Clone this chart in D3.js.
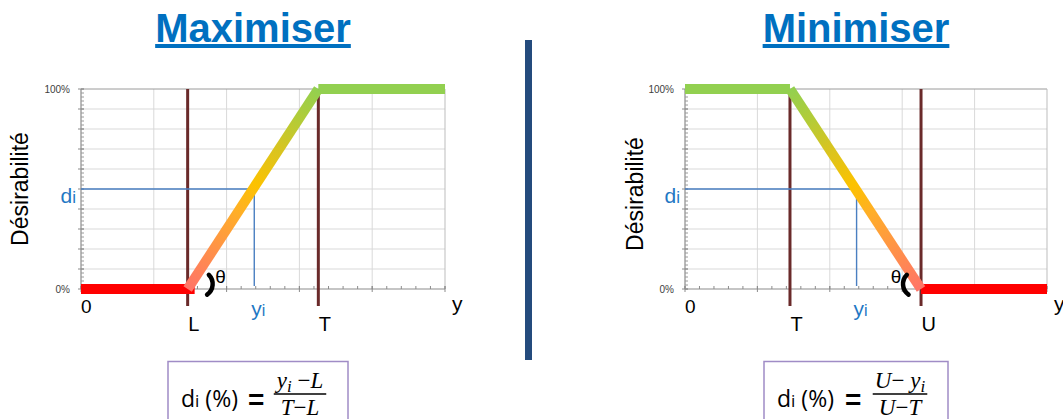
<!DOCTYPE html>
<html>
<head>
<meta charset="utf-8">
<script src="https://cdn.jsdelivr.net/npm/d3@7"></script>
<style>
  html, body { margin: 0; padding: 0; background: #ffffff; }
  svg { display: block; }
</style>
</head>
<body>
<script>
// ---- data -------------------------------------------------------------
const panelTitles = ["Maximiser", "Minimiser"];
const xDomain = [0, 10];
const xMajorTicks = [0, 2, 4, 6, 8, 10];
const yTickLabels = ["0%", "100%"];
const yTickValues = [0, 1];

// Maximiser: desirability rises from L to T
const maxMarkerNames = ["L", "T"];
const maxMarkerValues = [2.93, 6.52];
const maxCurveX = [0, 2.93, 6.52, 10];
const maxCurveY = [0, 0, 1, 1];
const maxYi = 4.76;
const maxDi = 0.5;

// Minimiser: desirability falls from T to U
const minMarkerNames = ["T", "U"];
const minMarkerValues = [2.90, 6.52];
const minCurveX = [0, 2.90, 6.52, 10];
const minCurveY = [1, 1, 0, 0];
const minYi = 4.74;
const minDi = 0.5;

// ---- layout -----------------------------------------------------------
const W = 1063, H = 419;
const plotTop = 89, plotBottom = 289;
const sans = "'Liberation Sans', Arial, Helvetica, sans-serif";
const serif = "'Liberation Serif', 'DejaVu Serif', serif";
const blue = "#1f78c4";

const panels = [
  {
    title: panelTitles[0], left: 81, right: 445, titleX: 253,
    ylabX: 20, ylabY: 189,
    names: maxMarkerNames, marks: maxMarkerValues,
    cx: maxCurveX, cy: maxCurveY, yi: maxYi, di: maxDi,
    redExtend: 7,
    box: { x: 168, w: 180, eqX: 80, fracX: 132 },
    num: ["y", "i", " \u2212", "L"], den: ["T", "\u2212", "L"], numKind: "yFirst"
  },
  {
    title: panelTitles[1], left: 685, right: 1047, titleX: 856,
    ylabX: 635, ylabY: 194,
    names: minMarkerNames, marks: minMarkerValues,
    cx: minCurveX, cy: minCurveY, yi: minYi, di: minDi,
    redExtend: 0,
    box: { x: 764, w: 184, eqX: 81, fracX: 136 },
    num: ["U", "\u2212 ", "y", "i"], den: ["U", "\u2212", "T"], numKind: "yLast"
  }
];

const svg = d3.select("body").append("svg")
  .attr("width", W).attr("height", H)
  .attr("viewBox", `0 0 ${W} ${H}`);

const defs = svg.append("defs");

// divider between the two panels
svg.append("rect")
  .attr("x", 525).attr("y", 40).attr("width", 7).attr("height", 320)
  .attr("fill", "#244b7d");

panels.forEach((p, pi) => {
  const x = d3.scaleLinear().domain(xDomain).range([p.left, p.right]);
  const y = d3.scaleLinear().domain([0, 1]).range([plotBottom, plotTop]);
  const g = svg.append("g");

  // title
  g.append("text")
    .attr("x", p.titleX).attr("y", 42)
    .attr("text-anchor", "middle")
    .attr("font-family", sans).attr("font-weight", "bold")
    .attr("font-size", 40).attr("fill", "#0070c0")
    .style("text-decoration", "underline")
    .text(p.title);

  // grid
  const grid = g.append("g");
  grid.selectAll("line.h")
    .data(d3.range(1, 10).map(i => i / 10))
    .join("line")
    .attr("x1", x(xDomain[0])).attr("x2", x(xDomain[1]))
    .attr("y1", d => y(d)).attr("y2", d => y(d))
    .attr("stroke", "#d9d9d9").attr("stroke-width", 1);
  grid.selectAll("line.v")
    .data(xMajorTicks.slice(1, -1))
    .join("line")
    .attr("x1", d => x(d)).attr("x2", d => x(d))
    .attr("y1", y(0)).attr("y2", y(1))
    .attr("stroke", "#d9d9d9").attr("stroke-width", 1);

  // plot frame: top and right border
  grid.append("line")
    .attr("x1", x(0)).attr("x2", x(10)).attr("y1", y(1)).attr("y2", y(1))
    .attr("stroke", "#9a9a9a").attr("stroke-width", 1);
  grid.append("line")
    .attr("x1", x(10)).attr("x2", x(10)).attr("y1", y(1)).attr("y2", y(0))
    .attr("stroke", "#bdbdbd").attr("stroke-width", 1);

  // x axis with minor ticks
  const xAxis = g.append("g").attr("transform", `translate(0,${y(0)})`);
  xAxis.append("line")
    .attr("x1", x(0)).attr("x2", x(10))
    .attr("stroke", "#8c8c8c").attr("stroke-width", 1.2);
  xAxis.selectAll("line.minor")
    .data(d3.range(0, 10.001, 0.4))
    .join("line")
    .attr("x1", d => x(d)).attr("x2", d => x(d))
    .attr("y1", -3).attr("y2", 0)
    .attr("stroke", "#8c8c8c");
  xAxis.selectAll("line.major")
    .data(xMajorTicks)
    .join("line")
    .attr("x1", d => x(d)).attr("x2", d => x(d))
    .attr("y1", -3).attr("y2", 3)
    .attr("stroke", "#8c8c8c");

  // y axis with minor ticks
  const yAxis = g.append("g").attr("transform", `translate(${x(0)},0)`);
  yAxis.append("line")
    .attr("y1", y(0)).attr("y2", y(1))
    .attr("stroke", "#8c8c8c").attr("stroke-width", 1.2);
  yAxis.selectAll("line.minor")
    .data(d3.range(0, 1.0001, 0.02))
    .join("line")
    .attr("y1", d => y(d)).attr("y2", d => y(d))
    .attr("x1", 0).attr("x2", 3)
    .attr("stroke", "#9a9a9a");
  yAxis.selectAll("line.major")
    .data(d3.range(0, 1.0001, 0.1))
    .join("line")
    .attr("y1", d => y(d)).attr("y2", d => y(d))
    .attr("x1", -3).attr("x2", 3)
    .attr("stroke", "#8c8c8c");
  yAxis.selectAll("text")
    .data(yTickValues)
    .join("text")
    .attr("x", -11).attr("y", d => y(d) + 3.5)
    .attr("text-anchor", "end")
    .attr("font-family", sans).attr("font-size", 10)
    .attr("fill", "#404040")
    .text((d, i) => yTickLabels[i]);

  // y axis title
  g.append("text")
    .attr("transform", `translate(${p.ylabX + 8},${p.ylabY}) rotate(-90)`)
    .attr("text-anchor", "middle")
    .attr("font-family", sans).attr("font-size", 23)
    .attr("fill", "#000")
    .text("Désirabilité");

  // vertical limit lines
  g.selectAll("line.mark")
    .data(p.marks)
    .join("line")
    .attr("x1", d => x(d)).attr("x2", d => x(d))
    .attr("y1", y(1)).attr("y2", y(0) + 17)
    .attr("stroke", "#6a2a2a").attr("stroke-width", 3);
  g.selectAll("text.mark")
    .data(p.marks)
    .join("text")
    .attr("x", d => x(d) + 0.5).attr("y", 331)
    .attr("font-family", sans).attr("font-size", 20)
    .attr("fill", "#000")
    .text((d, i) => p.names[i]);

  // "0" and "y" labels on the x axis
  g.append("text")
    .attr("x", x(0)).attr("y", 313)
    .attr("font-family", sans).attr("font-size", 19).attr("fill", "#000")
    .text("0");
  g.append("text")
    .attr("x", x(10) + 7).attr("y", 311)
    .attr("font-family", sans).attr("font-size", 21).attr("fill", "#000")
    .text("y");

  // di / yi guide lines
  g.append("path")
    .attr("d", `M${x(0)},${y(p.di)}H${x(p.yi)}V${y(0) - 3}`)
    .attr("fill", "none")
    .attr("stroke", "#4a7fc1").attr("stroke-width", 1.4);

  const diLabel = g.append("text")
    .attr("x", x(0) - 5).attr("y", y(p.di) + 14)
    .attr("text-anchor", "end")
    .attr("font-family", sans).attr("fill", blue);
  diLabel.append("tspan").attr("font-size", 21).text("d");
  diLabel.append("tspan").attr("font-size", 17).text("i");

  const yiLabel = g.append("text")
    .attr("x", x(p.yi) - 3).attr("y", 316)
    .attr("font-family", sans).attr("fill", blue);
  yiLabel.append("tspan").attr("font-size", 21).text("y");
  yiLabel.append("tspan").attr("font-size", 16).text("i");

  // desirability curve, split into flat and sloped segments
  const segs = d3.pairs(d3.range(p.cx.length));
  segs.forEach(([a, b]) => {
    const x1 = x(p.cx[a]), x2 = x(p.cx[b]);
    const y1 = y(p.cy[a]), y2 = y(p.cy[b]);
    if (p.cy[a] === p.cy[b]) {
      const red = p.cy[a] === 0;
      let ex2 = x2;
      if (red && p.redExtend) { ex2 = x2 + p.redExtend; }
      g.append("line")
        .attr("x1", x1).attr("x2", ex2)
        .attr("y1", y1).attr("y2", y2)
        .attr("stroke", red ? "#ff0000" : "#92d050")
        .attr("stroke-width", 10);
    }
  });
  segs.forEach(([a, b]) => {
    if (p.cy[a] === p.cy[b]) return;
    const lowIdx = p.cy[a] < p.cy[b] ? a : b;
    const highIdx = lowIdx === a ? b : a;
    const gid = "slope" + pi;
    const grad = defs.append("linearGradient")
      .attr("id", gid)
      .attr("gradientUnits", "userSpaceOnUse")
      .attr("x1", x(p.cx[lowIdx])).attr("y1", y(p.cy[lowIdx]))
      .attr("x2", x(p.cx[highIdx])).attr("y2", y(p.cy[highIdx]));
    [
      [0, "#ff7468"], [0.2, "#ff9248"], [0.38, "#ffae28"],
      [0.52, "#fcc200"], [0.7, "#d8c420"], [0.85, "#b2cc38"], [1, "#92d050"]
    ].forEach(([o, c]) => grad.append("stop").attr("offset", o).attr("stop-color", c));
    g.append("line")
      .attr("x1", x(p.cx[a])).attr("y1", y(p.cy[a]))
      .attr("x2", x(p.cx[b])).attr("y2", y(p.cy[b]))
      .attr("stroke", `url(#${gid})`)
      .attr("stroke-width", 10);

    // angle marker at the foot of the slope: a small bracket and θ
    const fx = x(p.cx[lowIdx]), fy = y(p.cy[lowIdx]);
    const toRight = p.cx[highIdx] > p.cx[lowIdx];
    const deg = Math.PI / 180;
    const r = 13;
    const acx = toRight ? fx + 12 : fx - 5;
    const acy = fy - 5;
    const a0 = toRight ? -45 * deg : 125 * deg;
    const a1 = toRight ? 55 * deg : 225 * deg;
    const arcPath = d3.path();
    arcPath.arc(acx, acy, r, a0, a1, false);
    g.append("path")
      .attr("d", arcPath.toString())
      .attr("fill", "none").attr("stroke", "#000")
      .attr("stroke-width", 4.5).attr("stroke-linecap", "round");
    g.append("text")
      .attr("x", toRight ? fx + 33 : fx - 25)
      .attr("y", fy - 6)
      .attr("text-anchor", "middle")
      .attr("font-family", sans).attr("font-size", 19).attr("fill", "#000")
      .text("θ");
  });

  // formula box
  const bx = p.box.x, by = 361.5;
  g.append("rect")
    .attr("x", bx).attr("y", by).attr("width", p.box.w).attr("height", 80)
    .attr("fill", "#fff").attr("stroke", "#a08cc6").attr("stroke-width", 1.5);

  const lhs = g.append("text")
    .attr("x", bx + 13).attr("y", 407)
    .attr("font-family", "'Open Sans', " + sans).attr("fill", "#000");
  lhs.append("tspan").attr("font-size", 23).text("d");
  lhs.append("tspan").attr("font-size", 17).text("i");
  lhs.append("tspan").attr("font-size", 23).text(" (%)");
  g.append("text")
    .attr("x", bx + p.box.eqX).attr("y", 409)
    .attr("font-family", sans).attr("font-weight", "bold")
    .attr("font-size", 28).attr("fill", "#000")
    .text("=");

  const fxc = bx + p.box.fracX;
  const num = g.append("text")
    .attr("x", fxc).attr("y", 388)
    .attr("text-anchor", "middle")
    .attr("font-family", serif).attr("font-size", 23).attr("fill", "#000");
  if (p.numKind === "yFirst") {
    num.append("tspan").attr("font-style", "italic").text(p.num[0]);
    num.append("tspan").attr("font-style", "italic").attr("font-size", 17).attr("dy", 4).text(p.num[1]);
    num.append("tspan").attr("dy", -4).text(p.num[2]);
    num.append("tspan").attr("font-style", "italic").text(p.num[3]);
  } else {
    num.append("tspan").attr("font-style", "italic").text(p.num[0]);
    num.append("tspan").text(p.num[1]);
    num.append("tspan").attr("font-style", "italic").text(p.num[2]);
    num.append("tspan").attr("font-style", "italic").attr("font-size", 17).attr("dy", 4).text(p.num[3]);
  }
  const den = g.append("text")
    .attr("x", fxc).attr("y", 415)
    .attr("text-anchor", "middle")
    .attr("font-family", serif).attr("font-size", 23).attr("fill", "#000");
  den.append("tspan").attr("font-style", "italic").text(p.den[0]);
  den.append("tspan").text(p.den[1]);
  den.append("tspan").attr("font-style", "italic").text(p.den[2]);

  const nb = num.node().getBBox();
  const half = Math.max(nb.width, den.node().getBBox().width) / 2 + 2;
  g.append("line")
    .attr("x1", fxc - half).attr("x2", fxc + half)
    .attr("y1", 394).attr("y2", 394)
    .attr("stroke", "#000").attr("stroke-width", 1.3);
});
</script>
</body>
</html>
